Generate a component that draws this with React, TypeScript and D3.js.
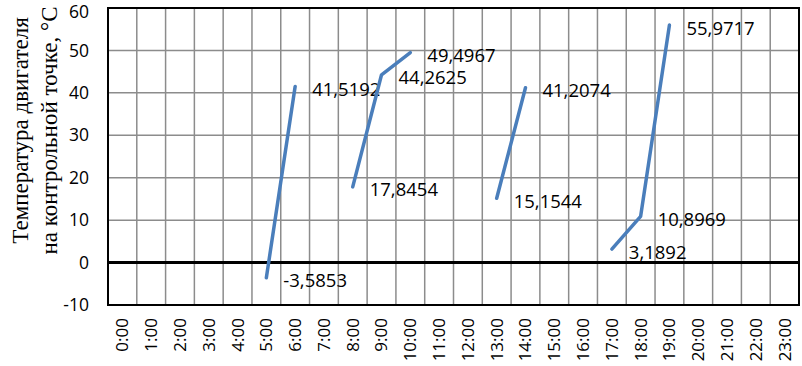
import * as d3 from 'd3';
import React, { useEffect, useRef } from 'react';

// Категории (часы) и значения температуры
const hours = d3.range(0, 24).map((h) => `${h}:00`);
const segments: { hour: number; value: number; label: string }[][] = [
  [
    { hour: 5, value: -3.5853, label: '-3,5853' },
    { hour: 6, value: 41.5192, label: '41,5192' },
  ],
  [
    { hour: 8, value: 17.8454, label: '17,8454' },
    { hour: 9, value: 44.2625, label: '44,2625' },
    { hour: 10, value: 49.4967, label: '49,4967' },
  ],
  [
    { hour: 13, value: 15.1544, label: '15,1544' },
    { hour: 14, value: 41.2074, label: '41,2074' },
  ],
  [
    { hour: 17, value: 3.1892, label: '3,1892' },
    { hour: 18, value: 10.8969, label: '10,8969' },
    { hour: 19, value: 55.9717, label: '55,9717' },
  ],
];
const yTicks = [-10, 0, 10, 20, 30, 40, 50, 60];

const App: React.FC = () => {
  const ref = useRef<SVGSVGElement | null>(null);

  useEffect(() => {
    if (!ref.current) return;
    const svg = d3.select(ref.current);
    svg.selectAll('*').remove();

    const left = 108;
    const right = 799;
    const top = 8;
    const bottom = 305;
    const labelFont = "'Open Sans', 'DejaVu Sans', sans-serif";

    const x = d3.scaleBand<string>().domain(hours).range([left, right]);
    const y = d3.scaleLinear().domain([-10, 60]).range([bottom, top]);

    // Сетка
    const grid = svg.append('g').attr('stroke', '#8c8c8c').attr('stroke-width', 1.5);
    hours.forEach((h, i) => {
      if (i === 0) return;
      const gx = x(h) as number;
      grid.append('line').attr('x1', gx).attr('x2', gx).attr('y1', top).attr('y2', bottom);
    });
    yTicks.forEach((t) => {
      if (t === -10 || t === 60 || t === 0) return;
      grid.append('line').attr('x1', left).attr('x2', right).attr('y1', y(t)).attr('y2', y(t));
    });

    // Рамка и нулевая линия
    svg
      .append('rect')
      .attr('x', left)
      .attr('y', top)
      .attr('width', right - left)
      .attr('height', bottom - top)
      .attr('fill', 'none')
      .attr('stroke', '#000')
      .attr('stroke-width', 2);
    svg
      .append('line')
      .attr('x1', left)
      .attr('x2', right)
      .attr('y1', y(0))
      .attr('y2', y(0))
      .attr('stroke', '#000')
      .attr('stroke-width', 3);

    // Подписи оси Y
    svg
      .append('g')
      .selectAll('text')
      .data(yTicks)
      .enter()
      .append('text')
      .attr('x', 89)
      .attr('y', (d) => Math.max(y(d), 12))
      .attr('dy', '0.35em')
      .attr('text-anchor', 'end')
      .style('font-family', labelFont)
      .style('font-size', '17.5px')
      .text((d) => d);

    // Подписи оси X
    svg
      .append('g')
      .selectAll('text')
      .data(hours)
      .enter()
      .append('text')
      .attr(
        'transform',
        (d) => `translate(${(x(d) as number) + x.bandwidth() / 2},${bottom + 13}) rotate(-90)`
      )
      .attr('dy', '0.35em')
      .attr('text-anchor', 'end')
      .style('font-family', labelFont)
      .style('font-size', '17px')
      .text((d) => d);

    // Линии
    const line = d3
      .line<{ hour: number; value: number }>()
      .x((d) => (x(hours[d.hour]) as number) + x.bandwidth() / 2)
      .y((d) => y(d.value));

    segments.forEach((seg) => {
      svg
        .append('path')
        .datum(seg)
        .attr('fill', 'none')
        .attr('stroke', '#4a7ebb')
        .attr('stroke-width', 3.5)
        .attr('stroke-linecap', 'round')
        .attr('stroke-linejoin', 'round')
        .attr('d', line);

      svg
        .append('g')
        .selectAll('text')
        .data(seg)
        .enter()
        .append('text')
        .attr('x', (d) => (x(hours[d.hour]) as number) + x.bandwidth() / 2 + 17)
        .attr('y', (d) => y(d.value) + 3)
        .attr('dy', '0.35em')
        .style('font-family', labelFont)
        .style('font-size', '18.5px')
        .text((d) => d.label);
    });

    // Заголовок оси Y
    const title = svg
      .append('text')
      .attr('transform', `translate(0,${(top + bottom) / 2 - 26}) rotate(-90)`)
      .attr('text-anchor', 'middle')
      .style('font-family', "'Liberation Serif', 'Times New Roman', serif")
      .style('font-size', '23px');
    title.append('tspan').attr('x', 0).attr('y', 28).text('Температура двигателя');
    title.append('tspan').attr('x', 0).attr('y', 57).text('на контрольной точке, °С');
  }, []);

  return (
    <svg
      ref={ref}
      width={802}
      height={366}
      style={{ position: 'absolute', left: 0, top: 0, background: '#fff' }}
    />
  );
};

export default App;
